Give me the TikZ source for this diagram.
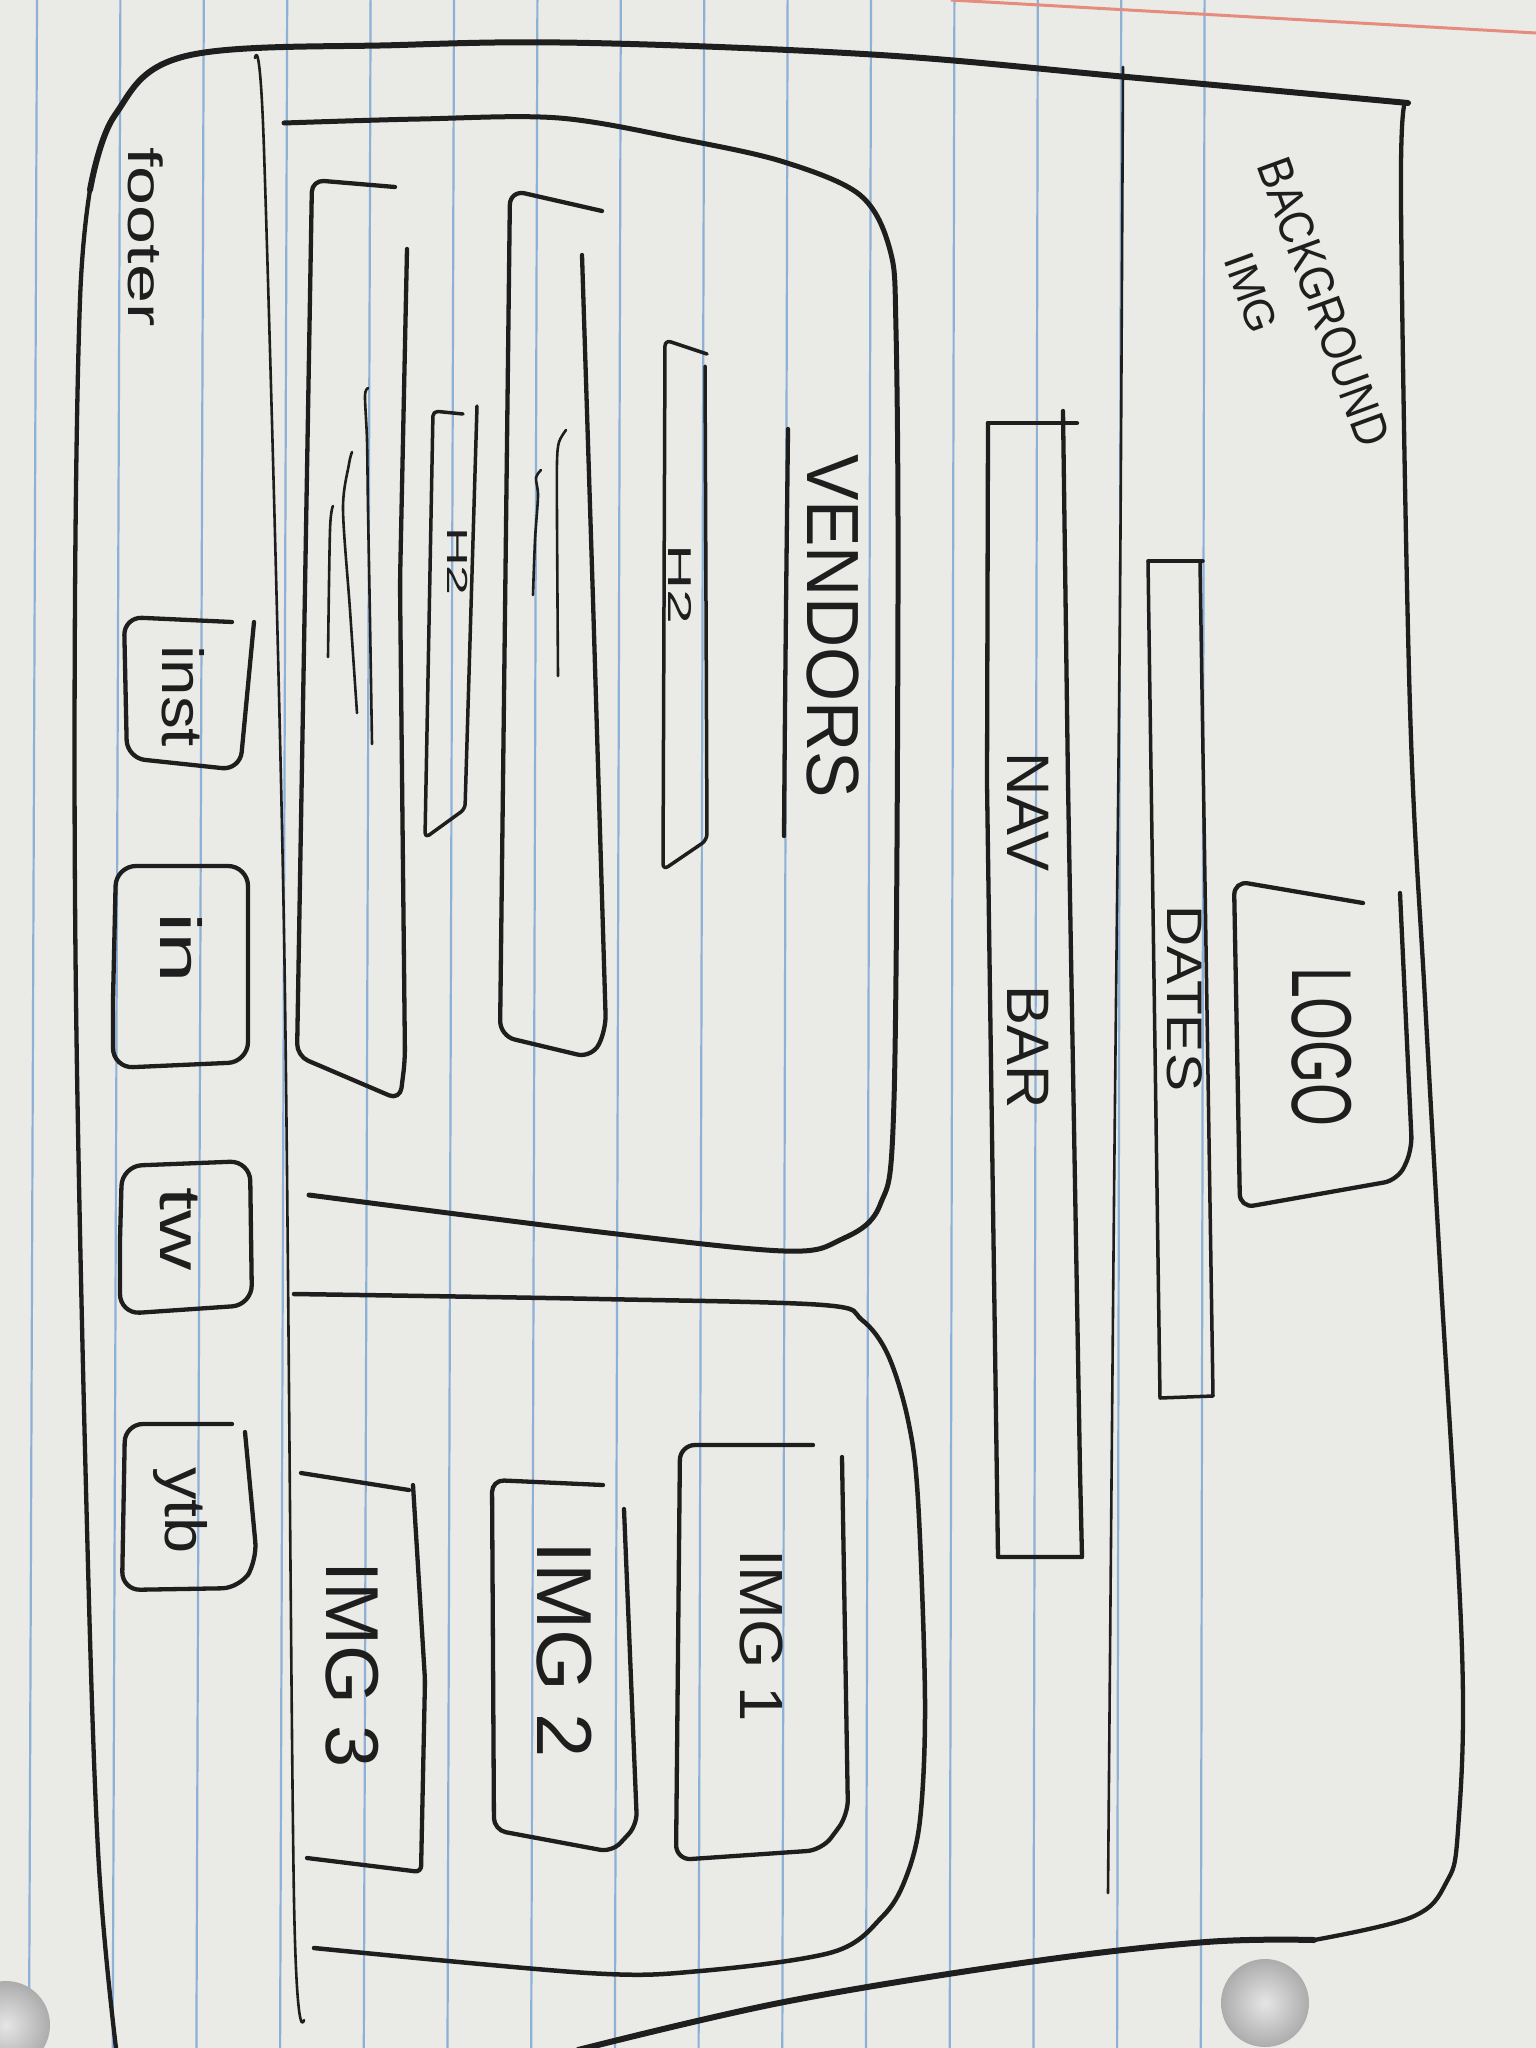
\documentclass[tikz,border=0pt]{standalone}
\usepackage{fontspec}
\setmainfont{Liberation Sans}
\usepackage{graphicx}
\definecolor{paper}{HTML}{EAEAE6}
\definecolor{ink}{HTML}{1E1E1E}
\definecolor{rulecol}{HTML}{8DB0D6}
\definecolor{margincol}{HTML}{E58C7E}
\newcommand{\hw}[3]{\scalebox{#2}[1]{\fontsize{#1}{#1}\selectfont #3}}
\begin{document}
\begin{tikzpicture}[x=1pt,y=-1pt]
\tikzset{
  pen/.style={draw=ink, line width=4.3pt, line cap=round, line join=round},
  thinpen/.style={draw=ink, line width=2.6pt, line cap=round, line join=round},
  heavypen/.style={draw=ink, line width=6pt, line cap=round, line join=round},
  ruleline/.style={draw=rulecol, line width=2.2pt},
  lbl/.style={inner sep=0pt, text=ink, rotate=-90, anchor=base west},
  bglbl/.style={inner sep=0pt, text=ink, rotate=-70, anchor=center},
}
% paper
\useasboundingbox (0,0) rectangle (1536,2048);
\fill[paper] (0,0) rectangle (1536,2048);
\foreach \i in {0,...,14} \draw[ruleline] ({37+83.4*\i},0) -- ({29+83.7*\i},2048);
\draw[margincol, line width=3pt] (951,0) -- (1536,33);
\shade[inner color=gray!20, outer color=gray!65] (1265,2003) circle (44pt);
\shade[inner color=gray!20, outer color=gray!65] (6,2025) circle (44pt);

% outer border
\draw[heavypen] plot[smooth, tension=0.6] coordinates {(90,190) (115,115) (186,56) (400,45) (590,43) (880,55) (1127,77) (1408,103)};
\draw[pen] plot[smooth, tension=0.6] coordinates {(116,2048) (98,1850) (86,1489) (76,1000) (75,600) (80,300) (90,190)};
\draw[pen] plot[smooth, tension=0.6] coordinates {(1405,103) (1401,206) (1410,708) (1425,1000) (1440,1266) (1462,1650) (1458,1830) (1446,1883) (1412,1917) (1314,1940)};
\draw[heavypen] plot[smooth, tension=0.6] coordinates {(1314,1940) (1206,1942) (1029,1962) (784,2002) (578,2050)};

% dividers
\draw[thinpen] plot[smooth] coordinates {(1123,67) (1120,600) (1114,1200) (1108,1893)};
\draw[thinpen] plot[smooth] coordinates {(255,58) (264,150) (284,931) (294,1900) (304,2020)};

% vendors section
\draw[heavypen, line width=5pt] plot[smooth, tension=0.55] coordinates {(284,123) (420,119) (559,118) (686,140) (784,162) (860,195) (890,250) (896,330) (898,600) (894,1100) (880,1205) (840,1240) (784,1251) (600,1232) (309,1195)};
% image section
\draw[pen, line width=4.5pt] plot[smooth, tension=0.55] coordinates {(294,1294) (600,1299) (823,1305) (862,1320) (888,1355) (908,1420) (918,1500) (925,1700) (920,1820) (905,1880) (882,1917) (833,1952) (700,1971) (588,1973) (314,1948)};

% logo
\draw[pen, rounded corners=14pt] (1363,903) -- (1234,881) -- (1240,1208) -- (1398,1180) -- (1412,1150) -- (1400,893);
\node[lbl] (logo) at (1292,967) {\hw{85}{0.65}{LOGO}};

% dates
\draw[pen, line width=3.5pt] (1148,561) -- (1203,561);
\draw[pen, line width=3.5pt] (1200,562) -- (1213,1396) -- (1160,1398) -- (1148,561);
\node[lbl] (dates) at (1167,905) {\hw{50}{1.14}{DATES}};

% nav bar
\draw[pen] (988,423) -- (1077,423);
\draw[pen] (1063,411) -- (1068,783) -- (1080,1471) -- (1082,1557) -- (998,1557) -- (987,783) -- (988,423);
\node[lbl] (navbar) at (1007,752) {\hw{60}{1}{NAV\hspace{114pt}BAR}};

% background img label
\node[bglbl] (bgtext) at (1324,302) {\hw{49}{0.86}{BACKGROUND}};
\node[bglbl] (bgimg) at (1251,293) {\hw{43}{1}{IMG}};

% vendors title
\node[lbl] (vendors) at (807,454) {\hw{74}{0.94}{VENDORS}};
\draw[pen] (788,429) .. controls (786,600) and (785,700) .. (784,836);

% H2 bars
\draw[pen, line width=3.5pt, rounded corners=6pt] (707,354) -- (665,340) -- (663,870) -- (707,840) -- (705,366);
\node[lbl] (htwoa) at (668,544) {\hw{33}{1.9}{H2}};
\draw[pen, line width=3.5pt, rounded corners=5pt] (463,414) -- (433,411) -- (425,838) -- (465,809) -- (477,406);
\node[lbl] (htwob) at (447,527) {\hw{29}{1.85}{H2}};

% vendor cards
\draw[pen, rounded corners=15pt] (602,211) -- (510,190) -- (500,1036) -- (592,1058) -- (606,1030) -- (593,600) -- (582,255);
\draw[thinpen] plot[smooth] coordinates {(566,430) (559,442) (557,462) (557,521) (558,676)};
\draw[thinpen] plot[smooth] coordinates {(541,470) (536,478) (538,496) (535,540) (533,595)};
\draw[pen, rounded corners=12pt] (395,187) -- (312,180) -- (297,1056) -- (400,1100) -- (405,1060) -- (400,583) -- (407,249);
\draw[thinpen] plot[smooth] coordinates {(368,388) (365,396) (367,440) (368,509) (370,620) (372,744)};
\draw[thinpen] plot[smooth] coordinates {(352,452) (349,464) (343,509) (350,610) (357,713)};
\draw[thinpen] plot[smooth] coordinates {(333,506) (330,530) (328,657)};

% images
\draw[pen, rounded corners=15pt] (813,1445) -- (680,1445) -- (676,1860) -- (822,1850) -- (848,1815) -- (842,1457);
\node[lbl] (imga) at (740,1549) {\hw{61}{1.04}{IMG 1}};
\draw[pen, rounded corners=12pt] (603,1485) -- (492,1480) -- (494,1830) -- (612,1852) -- (637,1825) -- (624,1509);
\node[lbl] (imgb) at (537,1541) {\hw{78}{1.02}{IMG 2}};
\draw[pen] (301,1473) -- (409,1490);
\draw[pen, rounded corners=6pt] (413,1485) -- (425,1680) -- (421,1872) -- (307,1858);
\node[lbl] (imgc) at (326,1561) {\hw{75}{1.01}{IMG 3}};

% footer
\node[lbl] (footer) at (128,147) {\hw{48}{1.46}{footer}};
\draw[pen, rounded corners=18pt] (232,622) -- (124,617) -- (127,758) -- (240,770) -- (254,622);
\node[lbl] (inst) at (162,645) {\hw{58}{1.13}{inst}};
\draw[pen, rounded corners=20pt] (113,1000) -- (116,866) -- (248,866) -- (248,1062) -- (113,1068) -- (113,1000);
\node[lbl] (lin) at (160,912) {\hw{58}{1.57}{in}};
\draw[pen, rounded corners=20pt] (120,1240) -- (122,1166) -- (250,1161) -- (252,1305) -- (120,1314) -- (120,1240);
\node[lbl] (tw) at (160,1187) {\hw{58}{1.43}{tw}};
\draw[pen, rounded corners=18pt] (232,1424) -- (125,1424) -- (122,1590) -- (240,1588) -- (257,1560) -- (245,1432);
\node[lbl] (ytb) at (165,1467) {\hw{58}{1.12}{ytb}};
\end{tikzpicture}
\end{document}
